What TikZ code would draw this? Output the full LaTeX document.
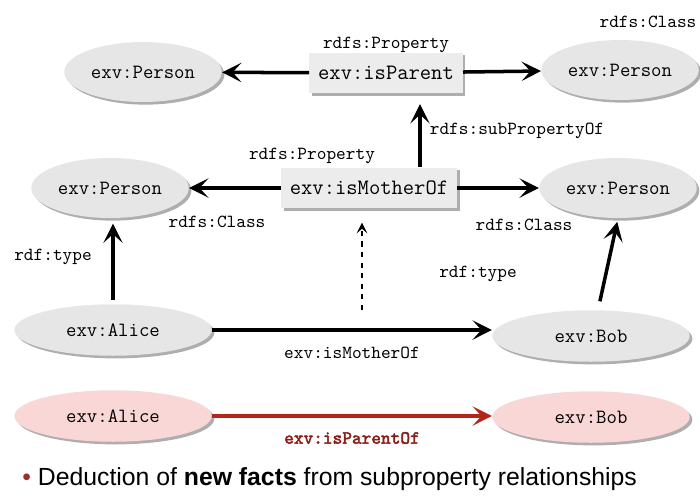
\documentclass[tikz,border=0pt]{standalone}
\usepackage{fontspec}
\setmainfont{Liberation Sans}
\newfontfamily\boldtt{Latin Modern Mono}[FakeBold=2.5]
\usepackage{xcolor}
\usetikzlibrary{arrows.meta,positioning,shapes.geometric,shadows}
\definecolor{rdfgray}{HTML}{E6E6E6}
\definecolor{rdfbox}{HTML}{ECECEC}
\definecolor{rdfpink}{HTML}{F9D7D7}
\definecolor{rdfred}{HTML}{B3261A}
\definecolor{rdfdark}{HTML}{8A1F1A}
\definecolor{rdfbullet}{HTML}{9C2F2F}

\begin{document}
\begin{tikzpicture}[
  x=0.02cm,
  y=-0.02cm,
  classnode/.style={ellipse, fill=rdfgray, minimum width=3.15cm, minimum height=1.2cm,
    inner sep=0pt, font=\ttfamily\fontsize{11.5}{13}\selectfont,
    drop shadow={shadow xshift=1.5pt, shadow yshift=-1.5pt, fill=black!45, opacity=0.7}},
  instnode/.style={classnode, minimum width=3.95cm, minimum height=1.03cm},
  newnode/.style={instnode, fill=rdfpink},
  propbox/.style={rectangle, fill=rdfbox, minimum height=0.81cm, inner xsep=5pt,
    font=\ttfamily\fontsize{12.5}{14}\selectfont,
    drop shadow={shadow xshift=1.5pt, shadow yshift=-1.5pt, fill=black!45, opacity=0.7}},
  tag/.style={font=\ttfamily\fontsize{10.5}{12}\selectfont, inner sep=1pt},
  arrow/.style={-{Stealth[length=11pt, width=11pt, inset=5pt]}, line width=2pt, draw=black},
  newarrow/.style={arrow, draw=rdfred},
  dasharrow/.style={-{Stealth[length=6pt, width=6pt, inset=2.5pt]}, line width=1pt, dashed}
]
\useasboundingbox (0,0) rectangle (700,495);

% schema level
\node[classnode] (person1) at (143,72) {exv:Person};
\node[propbox] (isparent) at (386,73) {exv:isParent};
\node[classnode] (person2) at (620,70) {exv:Person};
\node[classnode] (person3) at (110,188) {exv:Person};
\node[propbox] (motherof) at (369,188) {exv:isMotherOf};
\node[classnode] (person4) at (618,188) {exv:Person};

% instance level
\node[instnode] (alice) at (113,330) {exv:Alice};
\node[instnode] (bob) at (591,336) {exv:Bob};
\node[newnode] (alice2) at (113,416) {exv:Alice};
\node[newnode] (bob2) at (591,417) {exv:Bob};

% type labels
\node[tag] (prop1) at (386,45) {rdfs:Property};
\node[tag] (class2) at (648,22) {rdfs:Class};
\node[tag] (prop2) at (312,156) {rdfs:Property};
\node[tag] (class3) at (217,222) {rdfs:Class};
\node[tag] (class4) at (524,225) {rdfs:Class};
\node[tag] (subprop) at (517,131) {rdfs:subPropertyOf};
\node[tag] (type1) at (53,257) {rdf:type};
\node[tag] (type2) at (478,274) {rdf:type};
\node[tag] (mother) at (352,353) {exv:isMotherOf};
\node[tag, text=rdfdark, font=\boldtt\fontsize{10.5}{12}\selectfont] (parentof) at (352,438) {exv:isParentOf};

\coordinate (subx) at (420,130);
\coordinate (dashfoot) at (362,310);

\draw[arrow] (isparent) -- (person1);
\draw[arrow] (isparent) -- (person2);
\draw[arrow] (motherof) -- (person3);
\draw[arrow] (motherof) -- (person4);
\draw[arrow] (motherof.north -| subx) -- ([yshift=-6pt]isparent.south -| subx);
\draw[arrow] ([yshift=2pt]alice.north) -- ([yshift=-3pt]alice.north |- person3.south);
\draw[arrow, shorten <=5pt, shorten >=2pt] ([xshift=4pt]bob.north) -- (person4.south);
\draw[arrow] (alice.east) -- (alice.east -| bob.west);
\draw[dasharrow] (dashfoot) -- ([yshift=-8pt]dashfoot |- motherof.south);
\draw[newarrow] (alice2.east) -- (alice2.east -| bob2.west);

\node[anchor=west, font=\fontsize{14.1}{16}\selectfont, inner sep=0pt] (deduction) at (22,479)
  {\textcolor{rdfbullet}{\textbullet}\ Deduction of \textbf{new facts} from subproperty relationships};
\end{tikzpicture}
\end{document}
